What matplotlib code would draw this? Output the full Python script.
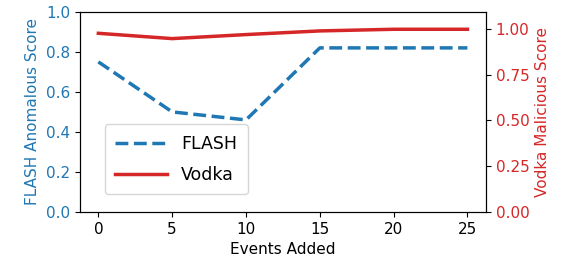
import numpy as np
import matplotlib
matplotlib.use("Agg")
import matplotlib.pyplot as plt

events = [0, 5, 10, 15, 20, 25]
flash = [0.75, 0.50, 0.46, 0.82, 0.82, 0.82]
vodka = [0.976, 0.947, 0.969, 0.989, 0.998, 0.998]

blue = '#1f77b4'
red = '#d62728'

fig, ax1 = plt.subplots(figsize=(5.75, 2.7), dpi=100)
fig.subplots_adjust(left=0.139, right=0.845, top=0.956, bottom=0.215)

l1, = ax1.plot(events, flash, '--', color=blue, lw=2.5, label='FLASH')
ax1.set_ylim(0, 1.0)
ax1.set_xlabel('Events Added', fontsize=11)
ax1.set_ylabel('FLASH Anomalous Score', color=blue, fontsize=11)
ax1.tick_params(axis='y', labelcolor=blue, labelsize=11)
ax1.tick_params(axis='x', labelsize=11)
ax1.set_xticks(events)

ax2 = ax1.twinx()
l2, = ax2.plot(events, vodka, '-', color=red, lw=2.5, label='Vodka')
ax2.set_ylim(0, 1.093)
ax2.set_yticks([0, 0.25, 0.5, 0.75, 1.0])
ax2.set_ylabel('Vodka Malicious Score', color=red, fontsize=11)
ax2.tick_params(axis='y', labelcolor=red, labelsize=11)

ax1.legend(handles=[l1, l2], loc='lower left', bbox_to_anchor=(0.04, 0.045),
           fontsize=12.5, handlelength=3, labelspacing=0.75, borderpad=0.6)

fig.savefig('out.png', dpi=100)
